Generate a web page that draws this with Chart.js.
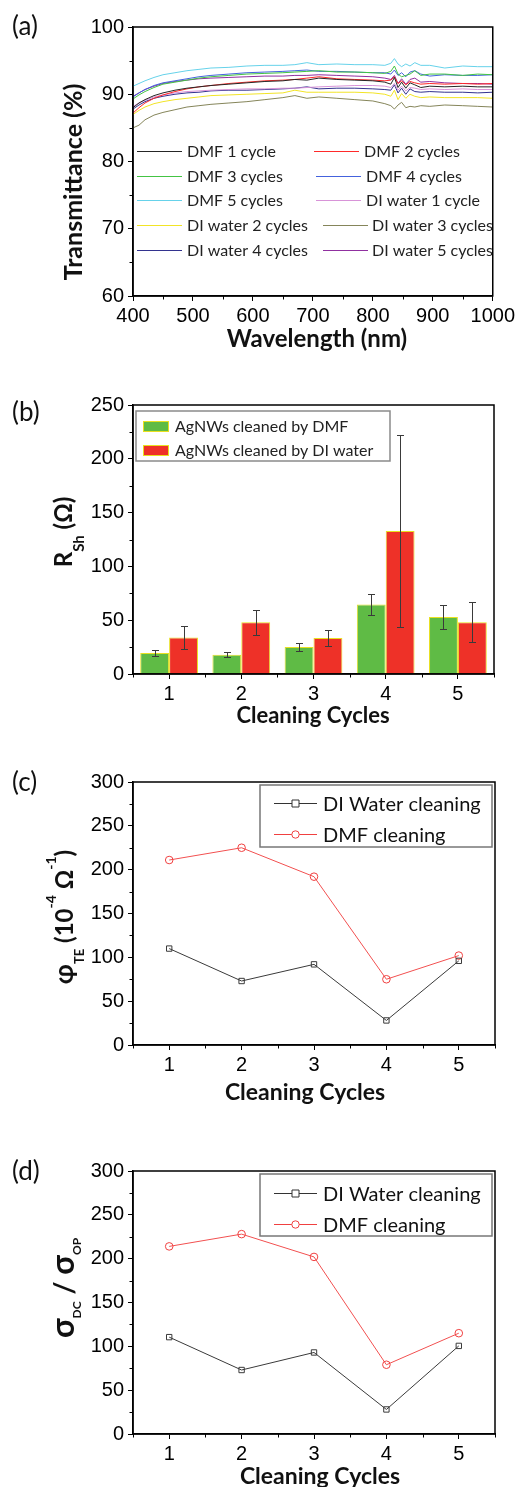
<!DOCTYPE html>
<html>
<head>
<meta charset="utf-8">
<script src="https://cdn.jsdelivr.net/npm/chart.js@4.4.1/dist/chart.umd.min.js"></script>
<style>
html, body { margin: 0; padding: 0; background: #fff; }
#wrap { position: relative; width: 518px; height: 1487px; overflow: hidden; background: #fff; }
#wrap canvas { position: absolute; left: 0; }
</style>
</head>
<body>
<div id="wrap">
  <canvas id="pa" width="518" height="370" style="top:0px"></canvas>
  <canvas id="pb" width="518" height="370" style="top:370px"></canvas>
  <canvas id="pc" width="518" height="370" style="top:740px"></canvas>
  <canvas id="pd" width="518" height="377" style="top:1110px"></canvas>
</div>
<script>
// ---------- data: (a) transmittance spectra ----------
var wavelengths = [400, 410, 420, 435, 450, 470, 490, 510, 530, 560, 590, 620, 650, 670, 690, 710, 740, 770, 800, 820, 830, 836, 842, 848, 855, 862, 870, 880, 895, 920, 950, 975, 1000];

var dmf1Cycle    = [88.0, 88.7, 89.2, 89.8, 90.2, 90.6, 90.9, 91.1, 91.3, 91.5, 91.7, 91.9, 92.0, 92.2, 92.1, 92.4, 92.2, 92.1, 92.0, 91.8, 91.5, 92.5, 91.0, 91.8, 90.9, 91.7, 91.4, 91.0, 91.2, 91.1, 91.2, 91.1, 91.1];
var dmf2Cycles   = [87.2, 88.0, 88.7, 89.4, 89.9, 90.4, 90.8, 91.1, 91.3, 91.6, 91.8, 92.0, 92.1, 92.2, 92.4, 92.6, 92.3, 92.2, 92.1, 92.0, 92.1, 92.6, 91.6, 92.0, 91.4, 91.9, 91.7, 91.5, 91.6, 91.5, 91.6, 91.5, 91.6];
var dmf3Cycles   = [89.3, 89.9, 90.4, 91.0, 91.5, 91.8, 92.1, 92.4, 92.6, 92.8, 93.0, 93.1, 93.2, 93.3, 93.4, 93.5, 93.3, 93.3, 93.2, 93.1, 93.4, 94.2, 93.0, 92.6, 92.8, 93.0, 93.5, 92.8, 93.0, 93.0, 92.8, 93.0, 92.9];
var dmf4Cycles   = [89.6, 90.2, 90.7, 91.3, 91.7, 92.0, 92.3, 92.6, 92.8, 93.0, 93.2, 93.3, 93.4, 93.5, 93.6, 93.4, 93.4, 93.3, 93.2, 93.2, 93.0, 93.6, 92.8, 93.2, 92.6, 93.3, 93.5, 93.0, 92.7, 92.9, 92.8, 92.8, 92.9];
var dmf5Cycles   = [91.2, 91.6, 92.0, 92.5, 92.9, 93.2, 93.5, 93.7, 93.9, 94.0, 94.2, 94.3, 94.3, 94.4, 94.7, 94.4, 94.5, 94.4, 94.4, 94.3, 94.6, 95.3, 94.5, 94.1, 94.5, 94.2, 94.7, 94.3, 94.3, 93.9, 94.2, 94.1, 94.1];
var diWater1Cycle  = [88.2, 88.7, 89.1, 89.6, 89.9, 90.2, 90.4, 90.5, 90.6, 90.7, 90.8, 90.8, 90.9, 90.9, 91.0, 91.1, 91.2, 91.3, 91.3, 91.2, 91.0, 91.6, 90.6, 91.2, 90.5, 91.0, 90.9, 90.7, 90.8, 90.7, 90.8, 90.7, 90.7];
var diWater2Cycles = [87.0, 87.6, 88.1, 88.6, 88.9, 89.2, 89.4, 89.6, 89.8, 89.9, 90.0, 90.1, 90.2, 90.6, 90.3, 90.3, 90.3, 90.3, 90.2, 90.0, 89.7, 90.6, 89.2, 90.1, 89.4, 90.0, 89.7, 89.5, 89.6, 89.5, 89.5, 89.5, 89.4];
var diWater3Cycles = [85.0, 85.4, 86.2, 86.9, 87.3, 87.7, 88.1, 88.3, 88.5, 88.7, 88.9, 89.2, 89.5, 89.8, 89.4, 89.6, 89.4, 89.2, 89.0, 88.6, 88.3, 87.8, 88.4, 88.8, 88.0, 88.2, 88.1, 88.3, 88.2, 88.4, 88.3, 88.2, 88.1];
var diWater4Cycles = [87.8, 88.4, 88.9, 89.4, 89.7, 90.0, 90.2, 90.3, 90.5, 90.6, 90.6, 90.7, 90.8, 90.9, 91.1, 90.8, 90.9, 90.9, 90.8, 90.7, 90.6, 91.4, 90.2, 90.9, 90.0, 90.8, 90.4, 90.3, 90.4, 90.3, 90.3, 90.2, 90.3];
var diWater5Cycles = [89.7, 90.2, 90.7, 91.2, 91.6, 91.9, 92.1, 92.3, 92.4, 92.5, 92.6, 92.7, 92.7, 92.8, 92.8, 92.9, 92.8, 92.7, 92.6, 92.4, 92.2, 92.8, 91.6, 92.3, 91.5, 92.2, 92.4, 91.8, 91.9, 91.7, 91.6, 91.6, 91.5];

var specNames  = ["DMF 1 cycle", "DMF 2 cycles", "DMF 3 cycles", "DMF 4 cycles", "DMF 5 cycles",
                  "DI water 1 cycle", "DI water 2 cycles", "DI water 3 cycles", "DI water 4 cycles", "DI water 5 cycles"];
var specSeries = [dmf1Cycle, dmf2Cycles, dmf3Cycles, dmf4Cycles, dmf5Cycles,
                  diWater1Cycle, diWater2Cycles, diWater3Cycles, diWater4Cycles, diWater5Cycles];
var specColors = ["#262626", "#ff2a2a", "#44c444", "#4462dd", "#66d2ea",
                  "#d894d8", "#f2e426", "#85855a", "#33338f", "#9030a0"];

// ---------- data: (b) sheet resistance ----------
var cycles = ["1", "2", "3", "4", "5"];
var rshDMF     = [19.5, 18, 25, 64.5, 53];
var rshDMFErr  = [3, 2.6, 4, 9.7, 11];
var rshDI      = [34, 48, 33.5, 133, 48];
var rshDIErr   = [10.5, 11.3, 7.6, 89.5, 18.6];

// ---------- data: (c) figure of merit, (d) conductivity ratio ----------
var phiDI    = [110, 73, 92, 28, 96];
var phiDMF   = [211, 225, 192, 75, 102];
var sigmaDI  = [110.5, 73, 93, 28, 100.5];
var sigmaDMF = [214, 228, 202, 79, 115];

// ---------- styling ----------
var TICK_FONT = { family: "Liberation Sans", size: 20 };
var FAM = "Lato, 'Open Sans', 'DejaVu Sans', sans-serif";
var BLACK = "#000";

function drawRich(ctx, item) {
    ctx.save();
    ctx.translate(item.x, item.y);
    if (item.rot) ctx.rotate(-Math.PI / 2);
    ctx.fillStyle = item.color || "#111";
    ctx.textBaseline = item.baseline || "alphabetic";
    var total = 0;
    item.parts.forEach(function (p) { ctx.font = p.font; p.w = ctx.measureText(p.t).width; total += p.w; });
    var cx = item.align === "left" ? 0 : -total / 2;
    item.parts.forEach(function (p) {
        ctx.font = p.font;
        ctx.fillText(p.t, cx, p.dy || 0);
        cx += p.w;
    });
    ctx.restore();
}

// box frame, minor ticks, titles, custom legends
var framePlugin = {
    id: "frame",
    afterDatasetsDraw: function (chart, args, opts) {
        var ctx = chart.ctx, a = chart.chartArea, x = chart.scales.x, y = chart.scales.y;
        ctx.save();
        ctx.strokeStyle = BLACK;
        ctx.lineWidth = 1.5;
        ctx.strokeRect(a.left, a.top, a.right - a.left, a.bottom - a.top);
        ctx.lineWidth = 1;
        ctx.beginPath();
        // y minor ticks
        for (var v = y.min + opts.yMinor; v < y.max; v += opts.yMinor * 2) {
            var py = Math.round(y.getPixelForValue(v)) + 0.5;
            ctx.moveTo(a.left - 3.5, py); ctx.lineTo(a.left, py);
        }
        // x minor ticks
        if (opts.xMinor === "between") {
            for (var i = 0; i <= x.ticks.length; i++) {
                var px = Math.round(x.getPixelForValue(i - 0.5)) + 0.5;
                ctx.moveTo(px, a.bottom); ctx.lineTo(px, a.bottom + 3.5);
            }
        } else {
            for (var w = x.min + opts.xMinor; w < x.max; w += opts.xMinor * 2) {
                var px2 = Math.round(x.getPixelForValue(w)) + 0.5;
                ctx.moveTo(px2, a.bottom); ctx.lineTo(px2, a.bottom + 3.5);
            }
        }
        ctx.stroke();
        ctx.restore();
    },
    afterDraw: function (chart, args, opts) {
        var ctx = chart.ctx;
        (opts.texts || []).forEach(function (t) { drawRich(ctx, t); });
        if (opts.legend) opts.legend(chart);
    }
};
Chart.register(framePlugin);

// error bars for panel (b)
var errorBarPlugin = {
    id: "errbars",
    afterDatasetsDraw: function (chart, args, opts) {
        if (!opts.errors) return;
        var ctx = chart.ctx, y = chart.scales.y;
        ctx.save();
        ctx.strokeStyle = "#3a3a3a";
        ctx.lineWidth = 1;
        chart.data.datasets.forEach(function (ds, di) {
            var meta = chart.getDatasetMeta(di);
            meta.data.forEach(function (bar, j) {
                var val = ds.data[j], e = opts.errors[di][j];
                var x0 = Math.round(bar.x) + 0.5;
                var yt = Math.round(y.getPixelForValue(val + e)) + 0.5;
                var yb = Math.round(y.getPixelForValue(val - e)) + 0.5;
                ctx.beginPath();
                ctx.moveTo(x0, yt); ctx.lineTo(x0, yb);
                ctx.moveTo(x0 - 3.5, yt); ctx.lineTo(x0 + 3.5, yt);
                ctx.moveTo(x0 - 3.5, yb); ctx.lineTo(x0 + 3.5, yb);
                ctx.stroke();
            });
        });
        ctx.restore();
    }
};
Chart.register(errorBarPlugin);

function plainNum(v) { return String(v); }

function axisY(min, max, step, width) {
    return {
        type: "linear", min: min, max: max,
        ticks: { stepSize: step, color: BLACK, font: TICK_FONT, padding: 4, callback: plainNum },
        grid: { drawOnChartArea: false, drawTicks: true, tickLength: 5, tickColor: BLACK, lineWidth: 1 },
        border: { display: true, color: BLACK, width: 1.5 },
        afterFit: function (s) { s.width = width; }
    };
}
function axisXcat(height) {
    return {
        type: "category", offset: true,
        ticks: { color: BLACK, font: TICK_FONT, padding: 3, maxRotation: 0 },
        grid: { offset: false, drawOnChartArea: false, drawTicks: true, tickLength: 5, tickColor: BLACK, lineWidth: 1 },
        border: { display: true, color: BLACK, width: 1.5 },
        afterFit: function (s) { s.height = height; }
    };
}

var bold = function (s) { return "bold " + s + "px " + FAM; };
var reg = function (s) { return s + "px " + FAM; };

// ---------- (a) ----------
var specDatasets = specSeries.map(function (vals, k) {
    return {
        label: specNames[k],
        data: vals.map(function (v, i) { return { x: wavelengths[i], y: v }; }),
        borderColor: specColors[k],
        backgroundColor: specColors[k],
        borderWidth: 1,
        pointRadius: 0,
        tension: 0
    };
});

function legendA(chart) {
    var ctx = chart.ctx, a = chart.chartArea;
    var rows = [124, 149, 173, 198, 223];
    var col2 = [[181, 231], [183, 233], [183, 233], [190, 239], [190, 239]];
    ctx.save();
    ctx.beginPath();
    ctx.rect(a.left, a.top, a.right - a.left, a.bottom - a.top);
    ctx.clip();
    ctx.font = reg(16);
    ctx.textBaseline = "middle";
    for (var k = 0; k < specNames.length; k++) {
        var r = Math.floor(k / 2), c = k % 2;
        var lx = c === 0 ? 4 : col2[r][0];
        var tx = c === 0 ? 54 : col2[r][1];
        var yy = a.top + rows[r];
        ctx.strokeStyle = specColors[k];
        ctx.lineWidth = 1;
        ctx.beginPath();
        ctx.moveTo(a.left + lx, yy + 0.5); ctx.lineTo(a.left + lx + 45, yy + 0.5);
        ctx.stroke();
        ctx.fillStyle = "#222";
        ctx.fillText(specNames[k], a.left + tx, yy + 1);
    }
    ctx.restore();
}

new Chart(document.getElementById("pa"), {
    type: "line",
    data: { datasets: specDatasets },
    options: {
        responsive: false, animation: false,
        layout: { padding: { left: 0, top: 27, right: 24, bottom: 0 } },
        scales: {
            x: {
                type: "linear", min: 400, max: 1000,
                ticks: { stepSize: 100, color: BLACK, font: TICK_FONT, padding: 3, maxRotation: 0, callback: plainNum },
                grid: { drawOnChartArea: false, tickLength: 5, tickColor: BLACK, lineWidth: 1 },
                border: { display: true, color: BLACK, width: 1.5 },
                afterFit: function (s) { s.height = 74; }
            },
            y: axisY(60, 100, 10, 133)
        },
        plugins: {
            legend: { display: false }, tooltip: { enabled: false },
            frame: {
                yMinor: 5, xMinor: 50, legend: legendA,
                texts: [
                    { parts: [{ t: "(a)", font: reg(26) }], x: 12, y: 27, align: "left", baseline: "middle" },
                    { parts: [{ t: "Wavelength (nm)", font: bold(24) }], x: 317, y: 347 },
                    { parts: [{ t: "Transmittance (%)", font: bold(25) }], x: 82, y: 182, rot: true }
                ]
            }
        }
    }
});

// ---------- (b) ----------
var GREEN = "#5fbb45", RED = "#ee3128", EDGE = "#e8e020";

function legendB(chart) {
    var ctx = chart.ctx, a = chart.chartArea;
    var bx = a.left + 3, by = a.top + 6;
    ctx.save();
    ctx.strokeStyle = "#8a8a8a"; ctx.lineWidth = 1.5;
    ctx.fillStyle = "#fff";
    ctx.fillRect(bx, by, 254, 50);
    ctx.strokeRect(bx, by, 254, 50);
    var items = [["AgNWs cleaned by DMF", GREEN, 21], ["AgNWs cleaned by DI water", RED, 45]];
    ctx.font = reg(16); ctx.textBaseline = "middle";
    items.forEach(function (it) {
        var yy = a.top + it[2];
        ctx.fillStyle = it[1];
        ctx.fillRect(a.left + 10, yy - 5, 25, 10);
        ctx.strokeStyle = EDGE; ctx.lineWidth = 1;
        ctx.strokeRect(a.left + 10.5, yy - 4.5, 25, 10);
        ctx.fillStyle = "#222";
        ctx.fillText(it[0], a.left + 42, yy + 1);
    });
    ctx.restore();
}

new Chart(document.getElementById("pb"), {
    type: "bar",
    data: {
        labels: cycles,
        datasets: [
            { label: "AgNWs cleaned by DMF", data: rshDMF, backgroundColor: GREEN, borderColor: EDGE, borderWidth: 1, categoryPercentage: 0.8, barPercentage: 1.0 },
            { label: "AgNWs cleaned by DI water", data: rshDI, backgroundColor: RED, borderColor: EDGE, borderWidth: 1, categoryPercentage: 0.8, barPercentage: 1.0 }
        ]
    },
    options: {
        responsive: false, animation: false,
        layout: { padding: { left: 0, top: 35, right: 24, bottom: 0 } },
        scales: { x: axisXcat(66), y: axisY(0, 250, 50, 133) },
        plugins: {
            legend: { display: false }, tooltip: { enabled: false },
            errbars: { errors: [rshDMFErr, rshDIErr] },
            frame: {
                yMinor: 25, xMinor: "between", legend: legendB,
                texts: [
                    { parts: [{ t: "(b)", font: reg(26) }], x: 12, y: 43, align: "left", baseline: "middle" },
                    { parts: [{ t: "Cleaning Cycles", font: bold(22) }], x: 313, y: 353 },
                    { parts: [{ t: "R", font: bold(24) }, { t: "Sh", font: bold(15), dy: 12 }, { t: " (Ω)", font: bold(24) }], x: 72, y: 162, rot: true }
                ]
            }
        }
    }
});

// ---------- (c), (d) ----------
function legendCD(dy1, dy2) {
    return function (chart) {
        var ctx = chart.ctx, a = chart.chartArea;
        var bx = a.right - 235, by = a.top + 3;
        ctx.save();
        ctx.strokeStyle = "#777"; ctx.lineWidth = 1.5;
        ctx.fillStyle = "#fff";
        ctx.fillRect(bx, by, 232, 62);
        ctx.strokeRect(bx, by, 232, 62);
        var items = [["DI Water cleaning", "#333", "rect", dy1], ["DMF cleaning", "#f04040", "circle", dy2]];
        ctx.font = reg(20); ctx.textBaseline = "middle";
        items.forEach(function (it) {
            var yy = a.top + it[3] + 0.5;
            ctx.strokeStyle = it[1]; ctx.lineWidth = 1;
            ctx.beginPath();
            ctx.moveTo(a.right - 221, yy); ctx.lineTo(a.right - 178, yy);
            ctx.stroke();
            var mx = a.right - 199.5;
            ctx.fillStyle = "#fff";
            ctx.beginPath();
            if (it[2] === "rect") ctx.rect(mx - 3.5, yy - 3.5, 7, 7);
            else ctx.arc(mx, yy, 3.7, 0, Math.PI * 2);
            ctx.fill(); ctx.stroke();
            ctx.fillStyle = "#111";
            ctx.fillText(it[0], a.right - 172, yy + 1);
        });
        ctx.restore();
    };
}

function lineConfig(diVals, dmfVals, padTop, xh, texts, legendFn) {
    return {
        type: "line",
        data: {
            labels: cycles,
            datasets: [
                { label: "DI Water cleaning", data: diVals, borderColor: "#3a3a3a", borderWidth: 1, pointStyle: "rect", pointRadius: 3.8, pointBorderWidth: 1, pointBorderColor: "#3a3a3a", pointBackgroundColor: "rgba(255,255,255,0)", tension: 0 },
                { label: "DMF cleaning", data: dmfVals, borderColor: "#f25050", borderWidth: 1, pointStyle: "circle", pointRadius: 3.8, pointBorderWidth: 1, pointBorderColor: "#f04040", pointBackgroundColor: "rgba(255,255,255,0)", tension: 0 }
            ]
        },
        options: {
            responsive: false, animation: false,
            layout: { padding: { left: 0, top: padTop, right: 23, bottom: 0 } },
            scales: { x: axisXcat(xh), y: axisY(0, 300, 50, 133) },
            plugins: {
                legend: { display: false }, tooltip: { enabled: false },
                frame: { yMinor: 25, xMinor: "between", legend: legendFn, texts: texts }
            }
        }
    };
}

new Chart(document.getElementById("pc"), lineConfig(phiDI, phiDMF, 42, 65, [
    { parts: [{ t: "(c)", font: reg(26) }], x: 12, y: 43, align: "left", baseline: "middle" },
    { parts: [{ t: "Cleaning Cycles", font: bold(23) }], x: 305, y: 360 },
    { parts: [
        { t: "φ", font: bold(26) }, { t: "TE", font: bold(13), dy: 11 },
        { t: " (10", font: bold(24) }, { t: "-4", font: bold(14), dy: -17 },
        { t: " Ω", font: bold(24) }, { t: "-1", font: bold(14), dy: -17 }, { t: ")", font: bold(24) }
      ], x: 73, y: 177, rot: true }
], legendCD(21, 52)));

new Chart(document.getElementById("pd"), lineConfig(sigmaDI, sigmaDMF, 61, 53, [
    { parts: [{ t: "(d)", font: reg(26) }], x: 12, y: 62, align: "left", baseline: "middle" },
    { parts: [{ t: "Cleaning Cycles", font: bold(23) }], x: 320, y: 374 },
    { parts: [
        { t: "σ", font: bold(32) }, { t: "DC", font: bold(12), dy: 7 },
        { t: " / ", font: bold(28) },
        { t: "σ", font: bold(32) }, { t: "OP", font: bold(12), dy: 7 }
      ], x: 74, y: 178, rot: true }
], legendCD(22, 53)));
</script>
</body>
</html>
